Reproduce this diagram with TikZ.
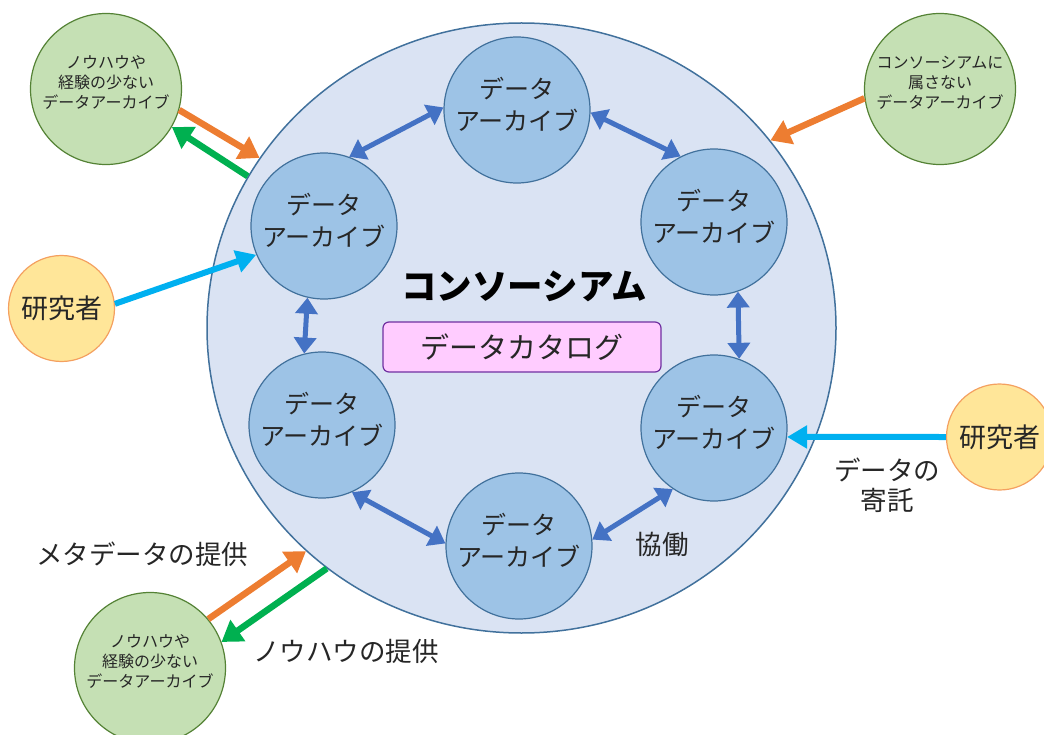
\documentclass[tikz,border=0pt]{standalone}
\usepackage{fontspec}
\setmainfont{Noto Sans CJK JP}
\usetikzlibrary{arrows.meta,shapes.geometric}
\definecolor{bigfill}{HTML}{DAE3F3}
\definecolor{bigdraw}{HTML}{41719C}
\definecolor{arcfill}{HTML}{9DC3E6}
\definecolor{grfill}{HTML}{C5E0B4}
\definecolor{grdraw}{HTML}{548235}
\definecolor{resfill}{HTML}{FFE699}
\definecolor{resdraw}{HTML}{F4A060}
\definecolor{catfill}{HTML}{FFCCFF}
\definecolor{catdraw}{HTML}{7030A0}
\definecolor{arrblue}{HTML}{4472C4}
\definecolor{arrcyan}{HTML}{00B0F0}
\definecolor{arrorange}{HTML}{ED7D31}
\definecolor{arrgreen}{HTML}{00B050}
\definecolor{txt}{HTML}{262626}
\tikzset{
  bigc/.style={ellipse, minimum width=629pt, minimum height=610pt, inner sep=0pt, fill=bigfill, draw=bigdraw, line width=1.5pt},
  archive/.style={circle, minimum size=146pt, inner sep=0pt, fill=arcfill, draw=bigdraw, line width=1.2pt, align=center, text=txt, text depth=13pt, font=\fontsize{25}{32}\selectfont},
  outer/.style={circle, minimum size=151pt, inner sep=0pt, fill=grfill, draw=grdraw, line width=1.2pt, align=center, text=txt, text depth=14pt, font=\fontsize{16}{20}\selectfont},
  researcher/.style={circle, minimum size=106pt, inner sep=0pt, fill=resfill, draw=resdraw, line width=1.2pt, text=txt, font=\fontsize{27}{30}\selectfont},
  lbl/.style={text=txt, align=center, font=\fontsize{26.5}{30}\selectfont},
  collab/.style={arrblue, line width=5pt, {Triangle[length=16pt,width=22pt]}-{Triangle[length=16pt,width=22pt]}},
  cyanarr/.style={arrcyan, line width=6pt, -{Triangle[length=20pt,width=22pt]}},
  orarr/.style={arrorange, line width=6.5pt, -{Triangle[length=20pt,width=25pt]}},
  grarr/.style={arrgreen, line width=6.5pt, -{Triangle[length=20pt,width=25pt]}}
}
\begin{document}
\begin{tikzpicture}[x=1pt,y=-1pt]
\useasboundingbox (0,0) rectangle (1044,735);
\node[bigc] (big) at (521.5,328) {};
% archives
\node[archive] (t)  at (517,110) {データ\\アーカイブ};
\node[archive] (ur) at (714,222) {データ\\アーカイブ};
\node[archive] (lr) at (714,428) {データ\\アーカイブ};
\node[archive] (b)  at (519,546) {データ\\アーカイブ};
\node[archive] (ll) at (322,425) {データ\\アーカイブ};
\node[archive] (ul) at (324,226) {データ\\アーカイブ};
% title and catalog
\node[font=\bfseries\fontsize{35.5}{40}\selectfont, text=black] (title) at (524,286) {コンソーシアム};
\node[rectangle, rounded corners=6pt, minimum width=278pt, minimum height=50pt, fill=catfill, draw=catdraw, line width=1.2pt, text=txt, font=\fontsize{29}{32}\selectfont] (cat) at (522,347) {データカタログ};
% outer circles
\node[outer] (gtl) at (106,89) {ノウハウや\\経験の少ない\\データアーカイブ};
\node[outer] (gtr) at (940,89) {コンソーシアムに\\属さない\\データアーカイブ};
\node[outer] (gbl) at (150,668) {ノウハウや\\経験の少ない\\データアーカイブ};
\node[researcher] (rl) at (61.5,308.5) {研究者};
\node[researcher] (rr) at (999.5,437) {研究者};
% collaboration arrows
\draw[collab] (ul.70) -- (t.178);
\draw[collab] (t.-2) -- (ur.117);
\draw[collab] (ur.-71) -- (lr.70);
\draw[collab] (lr.-124) -- (b.5);
\draw[collab] (b.178) -- (ll.-66);
\draw[collab] (ll.104) -- (ul.-103);
% researchers
\draw[cyanarr] (rl.5) -- (ul.203);
\draw[cyanarr] (rr.west) -- (lr.-7);
% outer arrows
\draw[orarr] (gtl.-16) -- (big.147);
\draw[grarr] (big.151) -- (gtl.-30);
\draw[orarr] (gtr.187) -- (big.37);
\draw[orarr] (gbl.40) -- (big.226);
\draw[grarr] (big.231) -- (gbl.20);
% labels
\node[lbl] (meta) at (142,554) {メタデータの提供};
\node[lbl] (know) at (346,651) {ノウハウの提供};
\node[lbl] (dep) at (887,485) {データの\\寄託};
\node[lbl] (kyo) at (662,544) {協働};
\end{tikzpicture}
\end{document}
